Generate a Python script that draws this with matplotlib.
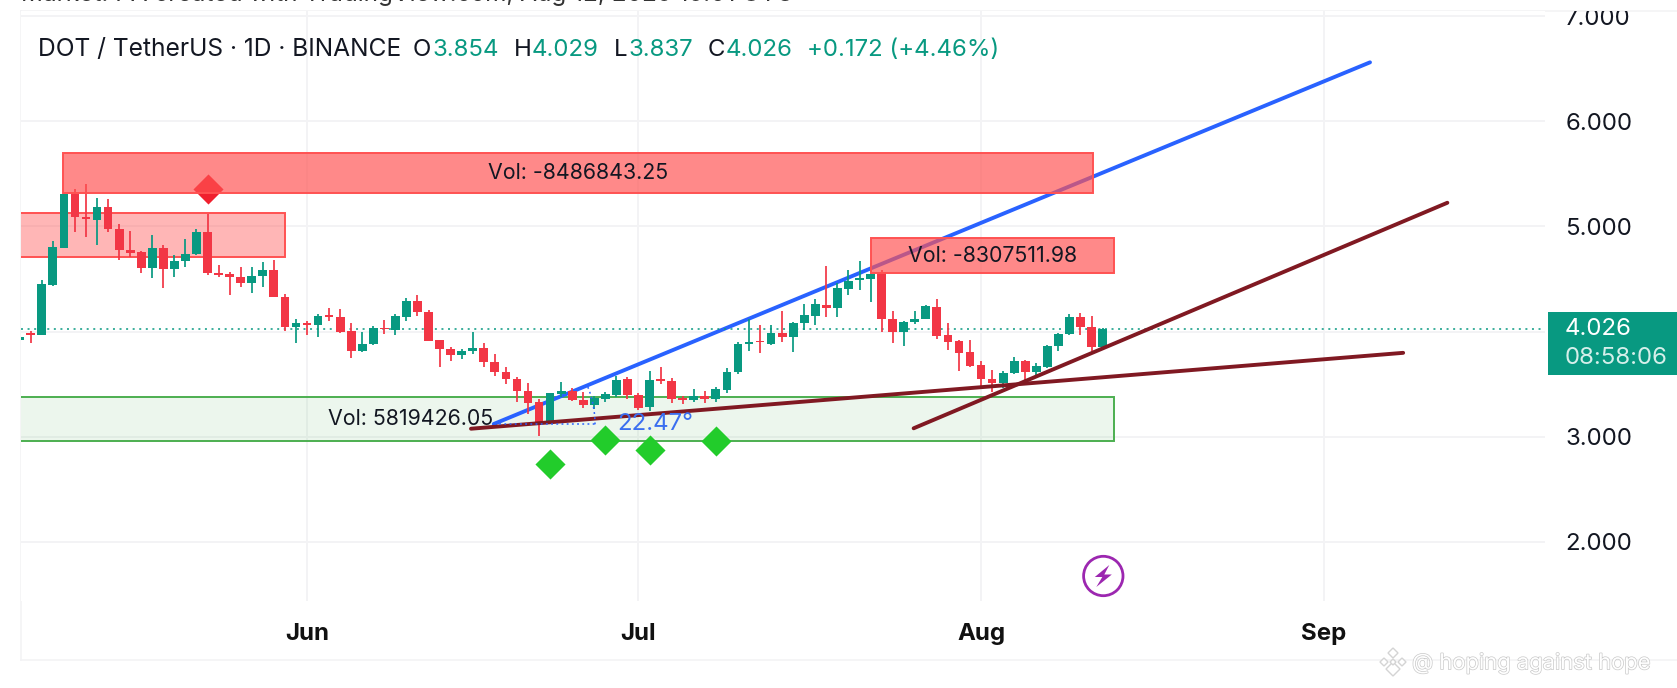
import numpy as np
import matplotlib
matplotlib.use("Agg")
import matplotlib.pyplot as plt
import matplotlib.patheffects as pe
from matplotlib.lines import Line2D
from matplotlib.patches import Polygon, Circle, Rectangle
from matplotlib.transforms import Bbox, IdentityTransform

plt.rcParams['font.family'] = ['Inter', 'DejaVu Sans']

# ---------- data ----------
first_day = -26  # days relative to 1 June
opens = [3.92,3.990,3.966,4.443,4.799,5.309,5.092,5.061,5.188,4.979,4.772,4.753,4.607,4.792,4.598,4.674,4.734,4.950,4.560,4.547,4.516,4.465,4.528,4.585,4.331,4.047,
         4.083,4.059,4.160,4.135,4.006,3.811,3.880,4.033,4.015,4.141,4.290,4.183,3.918,3.833,3.779,3.811,3.846,3.713,3.618,3.548,3.434,3.327,3.141,3.405,3.437,3.349,3.298,3.355,3.396,3.544,
         3.396,3.279,3.544,3.532,3.367,3.349,3.389,3.358,3.443,3.619,3.878,3.912,3.881,3.984,3.950,4.078,4.151,4.255,4.227,4.405,4.494,4.497,4.565,4.116,4.000,4.091,4.119,4.236,3.963,3.906,3.808,
         3.682,3.544,3.506,3.603,3.717,3.616,3.666,3.862,3.975,4.135,4.041,3.854]
highs = [3.97,4.008,4.490,4.865,5.319,5.356,5.400,5.268,5.262,5.023,4.956,4.765,4.915,4.821,4.724,4.878,4.972,5.117,4.633,4.569,4.617,4.610,4.664,4.680,4.356,4.116,
         4.103,4.163,4.220,4.211,4.078,3.996,4.056,4.110,4.163,4.315,4.343,4.204,3.918,3.849,3.830,3.993,3.893,3.783,3.660,3.569,3.506,3.358,3.419,3.522,3.459,3.428,3.387,3.421,3.581,3.563,
         3.412,3.628,3.666,3.554,3.389,3.450,3.434,3.475,3.657,3.897,4.117,4.063,4.063,4.195,4.094,4.262,4.306,4.623,4.459,4.585,4.671,4.655,4.585,4.198,4.104,4.195,4.252,4.309,4.078,3.919,3.919,
         3.723,3.635,3.628,3.755,3.729,3.698,3.871,3.990,4.167,4.180,4.151,4.029]
lows = [3.91,3.887,3.966,4.437,4.799,4.950,4.896,4.821,4.947,4.680,4.705,4.560,4.509,4.412,4.522,4.617,4.727,4.535,4.516,4.347,4.427,4.369,4.421,4.324,4.009,3.893,
        3.971,3.950,4.103,3.990,3.745,3.805,3.868,3.975,3.966,4.100,4.148,3.906,3.666,3.723,3.741,3.786,3.666,3.575,3.500,3.333,3.212,3.009,3.119,3.374,3.342,3.270,3.260,3.333,3.374,3.355,
        3.254,3.244,3.497,3.317,3.311,3.333,3.323,3.333,3.418,3.594,3.815,3.799,3.871,3.903,3.808,4.015,4.063,4.135,4.135,4.350,4.396,4.280,4.000,3.893,3.862,4.072,4.116,3.925,3.824,3.628,3.666,
        3.449,3.427,3.465,3.597,3.538,3.560,3.650,3.811,3.966,3.966,3.818,3.837]
closes = [3.95,3.966,4.453,4.802,5.309,5.092,5.067,5.188,4.972,4.775,4.749,4.607,4.792,4.598,4.674,4.734,4.950,4.554,4.541,4.516,4.459,4.528,4.585,4.331,4.047,4.078,
          4.063,4.148,4.135,3.999,3.811,3.877,4.031,4.023,4.148,4.290,4.182,3.912,3.833,3.779,3.817,3.843,3.713,3.618,3.544,3.434,3.317,3.141,3.412,3.434,3.349,3.298,3.364,3.402,3.538,3.396,
          3.270,3.538,3.529,3.358,3.349,3.387,3.358,3.450,3.619,3.881,3.903,3.897,3.983,3.950,4.085,4.157,4.258,4.227,4.412,4.481,4.507,4.545,4.116,4.000,4.091,4.116,4.243,3.960,3.903,3.799,3.672,
          3.544,3.506,3.603,3.717,3.619,3.672,3.865,3.975,4.135,4.041,3.854,4.026]

last_price = 4.026
price_ticks = [2, 3, 4, 5, 6, 7]
price_tick_labels = ['2.000', '3.000', '', '5.000', '6.000', '7.000']
month_days = [0, 30, 61, 92]
month_labels = ['Jun', 'Jul', 'Aug', 'Sep']

zone_left = [-22.1, -54.3, 51.0, -54.3]
zone_right = [71.1, -2.0, 73.0, 73.0]
zone_top = [5.701, 5.128, 4.887, 3.377]
zone_bottom = [5.321, 4.709, 4.557, 2.958]
zone_text = ['Vol: -8486843.25', None, 'Vol: -8307511.98', 'Vol: 5819426.05']

red_diamond_day = [-9]
red_diamond_price = [5.356]
green_diamond_day = [22, 27, 31, 37]
green_diamond_price = [2.742, 2.965, 2.873, 2.958]

blue_line_days = [16.9, 96.2]
blue_line_prices = [3.120, 6.561]
flat_line_days = [14.84, 99.2]
flat_line_prices = [3.075, 3.797]
steep_line_days = [54.9, 103.2]
steep_line_prices = [3.079, 5.225]

# ---------- layout ----------
W, H = 1677, 688
GREEN, RED = '#089981', '#F23645'
GRID = '#F3F3F5'
FS = 17.3
fig = plt.figure(figsize=(W / 100, H / 100), dpi=100, facecolor='white')
L, R, T, B = 21, 1545, 11, 601
ax = fig.add_axes([L / W, 1 - B / H, (R - L) / W, (B - T) / H])
px_day = 11.05
x0 = 307
px_price = 105.1
y3 = 436.6
ax.set_xlim((L - x0) / px_day, (R - x0) / px_day)
ax.set_ylim(3 + (y3 - B) / px_price, 3 + (y3 - T) / px_price)
for s in ax.spines.values():
    s.set_visible(False)

def fx(x): return x / W
def fy(y): return 1 - y / H
def flin(x1, y1, x2, y2, **kw):
    fig.add_artist(Line2D([fx(x1), fx(x2)], [fy(y1), fy(y2)], **kw))

# frame
flin(L, T, W, T, color=GRID, lw=1.2, zorder=0)
flin(L, T, L, 660, color=GRID, lw=1.2, zorder=0)
flin(L, 660, W, 660, color=GRID, lw=1.2, zorder=0)

# ticks and grid
ax.set_xticks(month_days, month_labels, fontweight='bold', fontsize=FS, color='#111111')
ax.set_yticks(price_ticks, price_tick_labels, fontsize=FS, color='#131722')
ax.yaxis.tick_right()
ax.tick_params(axis='both', length=0)
ax.tick_params(axis='y', pad=14.5)
ax.tick_params(axis='x', pad=15.5)
ax.grid(True, color=GRID, lw=1.4, zorder=0)
ax.set_axisbelow(True)
for t in ax.get_yticklabels():
    t.set_clip_on(True)
    t.set_clip_box(Bbox.from_extents(0, 0, W, H - T))

# zones below candles
def zone(i, alpha, z):
    ax.add_patch(Rectangle((zone_left[i], zone_bottom[i]), zone_right[i] - zone_left[i], zone_top[i] - zone_bottom[i],
                           facecolor=fc[i], alpha=alpha, edgecolor='none', zorder=z))
    ax.add_patch(Rectangle((zone_left[i], zone_bottom[i]), zone_right[i] - zone_left[i], zone_top[i] - zone_bottom[i],
                           facecolor='none', edgecolor=ec[i], lw=1.4, zorder=z + 0.01))
    if zone_text[i]:
        ax.text((zone_left[i] + zone_right[i]) / 2, (zone_top[i] + zone_bottom[i]) / 2, zone_text[i],
                ha='center', va='center', fontsize=15.4, color='#131722', zorder=8)

fc = ['#FF5252', '#FF5252', '#FF5252', '#4CAF50']
ec = ['#FF5252', '#FF5252', '#FF5252', '#4CAF50']
zone(1, 0.42, 1)
zone(3, 0.10, 1)

# red diamond under the top zone
ax.scatter(red_diamond_day, red_diamond_price, marker='D', s=235, color='#F0202E', linewidths=0, zorder=3)
ax.scatter(green_diamond_day, green_diamond_price, marker='D', s=235, color='#22CC2B', linewidths=0, zorder=6)

# blue trend line, under candles
ax.plot(blue_line_days, blue_line_prices, color='#2962FF', lw=2.8, zorder=2, solid_capstyle='round')

# candles
days = np.arange(first_day, first_day + len(opens))
o, h, l, c = map(np.array, (opens, highs, lows, closes))
cols = [GREEN if cc >= oo else RED for oo, cc in zip(o, c)]
ax.vlines(days, l, h, colors=cols, lw=1.25, zorder=4)
ax.bar(days, np.maximum(np.abs(c - o), 0.012), bottom=np.minimum(o, c), width=0.79, color=cols, linewidth=0, zorder=4)

# dark red trend lines above candles
ax.plot(flat_line_days, flat_line_prices, color='#801922', lw=2.8, zorder=5, solid_capstyle='round')
ax.plot(steep_line_days, steep_line_prices, color='#801922', lw=2.8, zorder=5, solid_capstyle='round')

# red zones over candles
zone(0, 0.68, 6)
zone(2, 0.68, 6)

# last-price dotted line
ax.axhline(last_price, color=GREEN, lw=1.1, ls=(0, (1.3, 3)), zorder=3)

# angle tool (pixel anchored)
cx, cy, rad = 494, 424.3, 101
fig.add_artist(Line2D([fx(cx), fx(cx + rad)], [fy(cy), fy(cy)], color='#2962FF', lw=1.1, ls=(0, (1.2, 2.2)), zorder=7))
th = np.radians(np.linspace(0, 22.47, 12))
fig.add_artist(Line2D(fx(cx + rad * np.cos(th)), fy(cy - rad * np.sin(th)), color='#2962FF', lw=1.1, ls=(0, (1.2, 2.2)), zorder=7))
fig.text(fx(617), fy(424), '22.47°', ha='left', va='center', fontsize=FS, color='#3B6FF0', zorder=9)

# header
def head(x, s, col='#131722', size=FS):
    fig.text(fx(x), fy(56), s, ha='left', va='baseline', fontsize=size, color=col)
head(37.5, 'DOT / TetherUS · 1D · BINANCE', size=17.7)
for x, s in [(413, 'O'), (514, 'H'), (614, 'L'), (708, 'C')]:
    head(x, s)
for x, s in [(433, '3.854'), (532, '4.029'), (628, '3.837'), (726, '4.026'), (807, '+0.172 (+4.46%)')]:
    head(x, s, GREEN)

# clipped top caption
fig.text(fx(21), fy(1), 'Market: PA created with TradingView.com, Aug 12, 2025 15:01 UTC',
         ha='left', va='baseline', fontsize=17.5, color='#333333')

# last-price label
fig.patches.append(Rectangle((fx(1547.5), fy(375.2)), (W - 1547.5) / W, 62.8 / H, transform=fig.transFigure,
                             facecolor=GREEN, edgecolor='none', zorder=5))
fig.text(fx(1565), fy(329), '4.026', ha='left', va='center', fontsize=FS, color='white', zorder=9)
fig.text(fx(1565), fy(358.5), '08:58:06', ha='left', va='center', fontsize=FS, color='#D5EFEA', zorder=9)

# lightning icon
icx, icy = 1103.3, 576
fig.add_artist(Circle((icx, H - icy), 19.7, transform=IdentityTransform(), facecolor='white', edgecolor='#9C27B0', lw=2.0, zorder=7))
bolt = np.array([(6, -11), (-8.5, 1), (-1, 1), (-7, 11), (8.5, -1.5), (1, -1.5)], float)
fig.add_artist(Polygon(np.c_[icx + bolt[:, 0], H - (icy + bolt[:, 1])], transform=IdentityTransform(), facecolor='#9C27B0', edgecolor='none', zorder=8))

# watermark
lcx, lcy = 1393, 662
for dx, dy, r in [(0, -9, 5), (-9, 0, 4), (9, 0, 4), (0, 7, 7), (0, 0, 3)]:
    pts = np.array([(0, -r), (r, 0), (0, r), (-r, 0)], float) + (lcx + dx, lcy + dy)
    fig.add_artist(Polygon(np.c_[pts[:, 0], H - pts[:, 1]], transform=IdentityTransform(), facecolor='white', edgecolor='#D4D4D4', lw=1.0, zorder=9))
wm = fig.text(fx(1412), fy(663), '@ hoping against hope', ha='left', va='center', fontsize=15.8, color='white', zorder=9)
wm.set_path_effects([pe.withStroke(linewidth=1.0, foreground='#C9C9C9')])

fig.savefig('out.png', dpi=100, facecolor='white')
